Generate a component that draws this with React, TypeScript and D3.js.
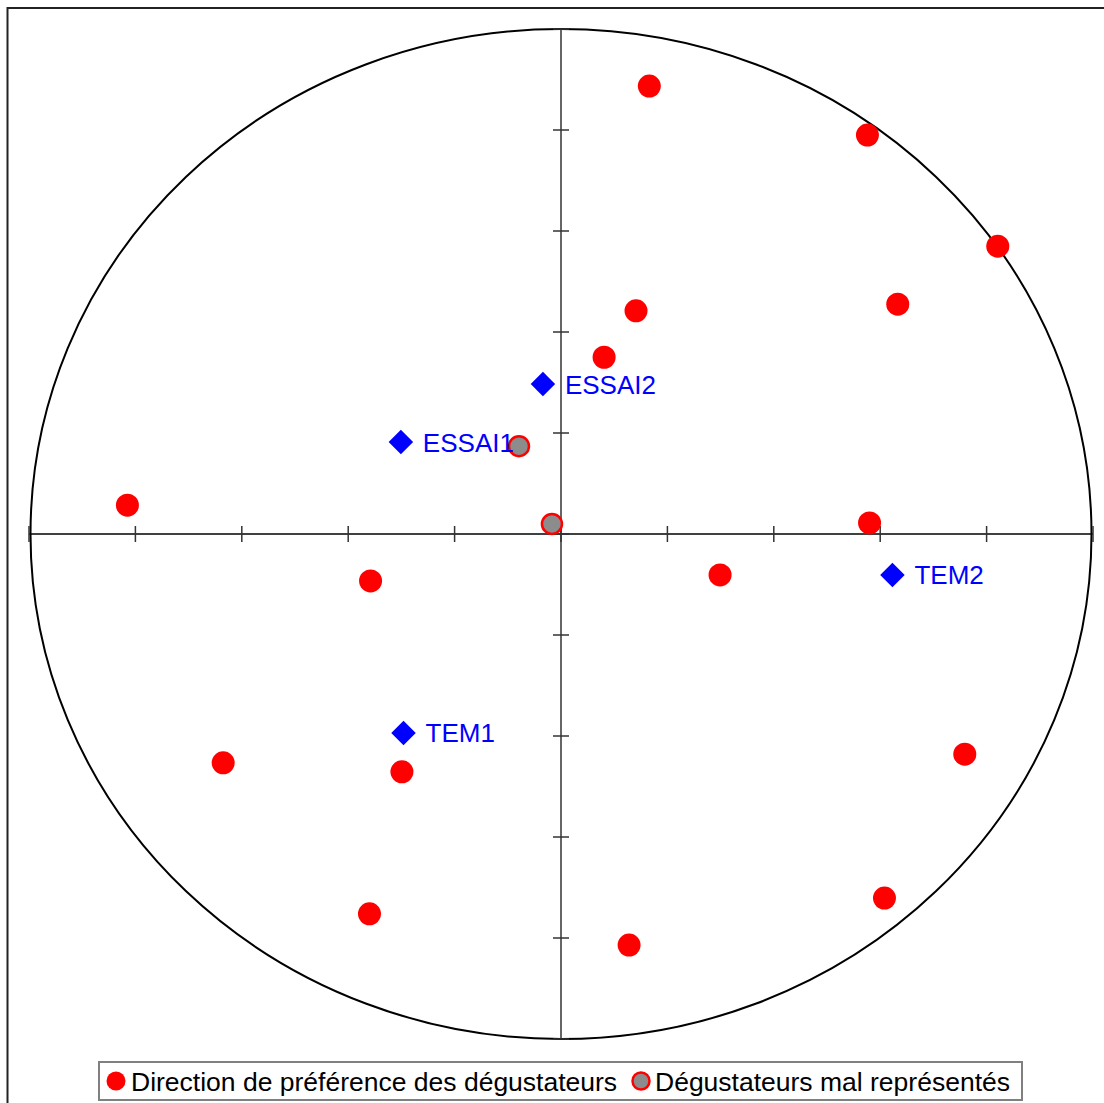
import React from "react";
import * as d3 from "d3";

const judgesX = [0.166, 0.576, 0.821, 0.633, 0.141, 0.081, -0.815, 0.58, -0.358, 0.299, -0.635, -0.299, 0.759, -0.36, 0.608, 0.128];
const judgesY = [0.887, 0.79, 0.57, 0.455, 0.442, 0.35, 0.057, 0.022, -0.093, -0.081, -0.453, -0.471, -0.436, -0.752, -0.721, -0.814];
const poorX = [-0.079, -0.017];
const poorY = [0.174, 0.02];
const productNames = ["ESSAI2", "ESSAI1", "TEM2", "TEM1"];
const productX = [-0.034, -0.301, 0.623, -0.296];
const productY = [0.297, 0.182, -0.081, -0.394];
const tickValues = [-1, -0.8, -0.6, -0.4, -0.2, 0, 0.2, 0.4, 0.6, 0.8, 1];
const legendLabels = ["Direction de préférence des dégustateurs", "Dégustateurs mal représentés"];

export default function App() {
  const W = 1104, H = 1103;
  const x = d3.scaleLinear().domain([-1, 1]).range([29, 1093]);
  const y = d3.scaleLinear().domain([-1, 1]).range([1039, 29]);
  const cx = x(0), cy = y(0);
  const rx = (x(1) - x(-1)) / 2 - 1.5;
  const ry = (y(-1) - y(1)) / 2;
  const font = "'Liberation Sans', Arial, sans-serif";
  return (
    <svg width={W} height={H} style={{ position: "absolute", left: 0, top: 0 }}>
      <rect x={0} y={0} width={W} height={H} fill="#fff" />
      <rect x={7.5} y={8} width={1120} height={1120} fill="none" stroke="#222" strokeWidth={2} />
      <ellipse cx={cx} cy={cy} rx={rx} ry={ry} fill="none" stroke="#000" strokeWidth={2} />
      <line x1={x(-1)} x2={x(1)} y1={cy} y2={cy} stroke="#000" strokeWidth={1.5} />
      <line x1={cx} x2={cx} y1={y(1)} y2={y(-1)} stroke="#333" strokeWidth={1.5} />
      {tickValues.map((t, i) => (
        <line key={"tx" + i} x1={x(t)} x2={x(t)} y1={cy - 8} y2={cy + 8} stroke="#333" strokeWidth={1.5} />
      ))}
      {tickValues.map((t, i) => (
        <line key={"ty" + i} x1={cx - 8} x2={cx + 8} y1={y(t)} y2={y(t)} stroke="#333" strokeWidth={1.5} />
      ))}
      {judgesX.map((v, i) => (
        <circle key={"j" + i} cx={x(v)} cy={y(judgesY[i])} r={11.5} fill="#ff0000" />
      ))}
      {poorX.map((v, i) => (
        <circle key={"p" + i} cx={x(v)} cy={y(poorY[i])} r={10} fill="#8c8c8c" stroke="#ff0000" strokeWidth={2.5} />
      ))}
      {productNames.map((n, i) => (
        <g key={n} transform={`translate(${x(productX[i])},${y(productY[i])})`}>
          <path d={d3.symbol().type(d3.symbolSquare).size(300)()!} transform="rotate(45)" fill="#0000ff" />
          <text x={22} y={9.5} fontFamily={font} fontSize={26} fill="#0000ff">{n}</text>
        </g>
      ))}
      <rect x={99} y={1062} width={923} height={38} fill="#fff" stroke="#808080" strokeWidth={2} />
      <circle cx={116} cy={1081} r={9.5} fill="#ff0000" />
      <text x={131} y={1090.5} fontFamily={font} fontSize={26.5} fill="#000">{legendLabels[0]}</text>
      <circle cx={641} cy={1081} r={8.5} fill="#8c8c8c" stroke="#ff0000" strokeWidth={2.5} />
      <text x={655} y={1090.5} fontFamily={font} fontSize={26.5} fill="#000">{legendLabels[1]}</text>
    </svg>
  );
}
